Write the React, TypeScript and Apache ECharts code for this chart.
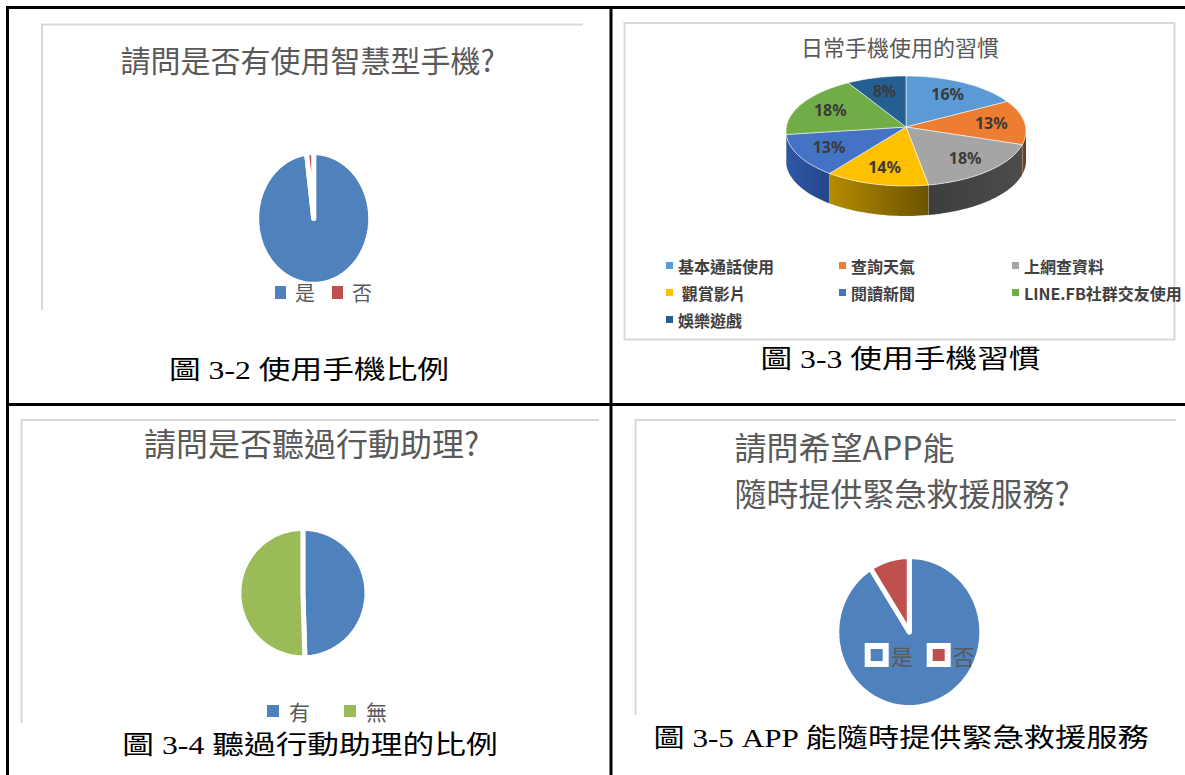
import React, { useEffect, useRef } from "react";
import * as echarts from "echarts";

// ---- Data ----
// 圖 3-2
const phoneCategories = ["是", "否"];
const phoneValues = [98, 2];
// 圖 3-3
const habitCategories = ["基本通話使用", "查詢天氣", "上網查資料", " 觀賞影片", "閱讀新聞", "LINE.FB社群交友使用", "娛樂遊戲"];
const habitValues = [16, 13, 18, 14, 13, 18, 8];
// 圖 3-4
const assistantCategories = ["有", "無"];
const assistantValues = [49.5, 50.5];
// 圖 3-5
const rescueCategories = ["是", "否"];
const rescueValues = [91, 9];

const chartTitles = [
  "請問是否有使用智慧型手機?",
  "日常手機使用的習慣",
  "請問是否聽過行動助理?",
  "請問希望APP能\n隨時提供緊急救援服務?",
];
const figureCaptions = [
  "圖 3-2 使用手機比例",
  "圖 3-3 使用手機習慣",
  "圖 3-4 聽過行動助理的比例",
  "圖 3-5 APP 能隨時提供緊急救援服務",
];

// ---- Styles ----
const BLUE = "#4F81BD";
const RED = "#C0504D";
const GREEN = "#9BBB59";
const habitColors = ["#5B9BD5", "#ED7D31", "#A5A5A5", "#FFC000", "#4472C4", "#70AD47", "#255E91"];
const habitSideColors = [
  ["#3f78ad", "#2f5d88"],
  ["#8a4a20", "#5e3515"],
  ["#3d3d3d", "#4c4c4c"],
  ["#b58c00", "#6b5300"],
  ["#2f57a6", "#24478a"],
  ["#4f8530", "#3b6524"],
  ["#1a4670", "#143657"],
];
const CJK = '"Noto Sans CJK TC", "Noto Sans", sans-serif';
const SERIF = '"Liberation Serif", "Noto Sans CJK TC", serif';
const TITLE_GRAY = "#595959";

const sum = (a: number[]) => a.reduce((s, v) => s + v, 0);

function arcPoints(cx: number, cy: number, rx: number, ry: number, a0: number, a1: number, dy = 0) {
  const pts: number[][] = [];
  const n = Math.max(2, Math.ceil(Math.abs(a1 - a0) / 2));
  for (let k = 0; k <= n; k++) {
    const a = ((a0 + ((a1 - a0) * k) / n) * Math.PI) / 180;
    pts.push([cx + rx * Math.sin(a), cy - ry * Math.cos(a) + dy]);
  }
  return pts;
}

type Geo = { cx: number; cy: number; rx: number; ry: number; border: number };

function flatPie(cats: string[], vals: number[], colors: string[], geo: Geo) {
  const total = sum(vals);
  return cats.map((name, i) => {
    const before = sum(vals.slice(0, i));
    return {
      type: "custom",
      name,
      coordinateSystem: "none",
      data: [[vals[i]]],
      itemStyle: { color: colors[i] },
      renderItem: (_p: any, api: any) => {
        const v = api.value(0);
        const a0 = (before / total) * 360;
        const a1 = ((before + v) / total) * 360;
        const pts = [[geo.cx, geo.cy], ...arcPoints(geo.cx, geo.cy, geo.rx, geo.ry, a0, a1)];
        return {
          type: "polygon",
          z2: i,
          shape: { points: pts },
          style: { fill: colors[i], stroke: "#ffffff", lineWidth: geo.border, lineJoin: "round" },
        };
      },
    };
  });
}

const pie3d = { cx: 906, cy: 131, rx: 120, ry: 55, depth: 30, apexDy: -4, labelF: 0.72 };

function pie3dSeries() {
  const total = sum(habitValues);
  const { cx, cy, rx, ry, depth, apexDy, labelF } = pie3d;
  return habitCategories.map((name, i) => {
    const before = sum(habitValues.slice(0, i));
    return {
      type: "custom",
      name,
      coordinateSystem: "none",
      data: [[habitValues[i]]],
      itemStyle: { color: habitColors[i] },
      renderItem: (_p: any, api: any) => {
        const v = api.value(0);
        const a0 = (before / total) * 360;
        const a1 = ((before + v) / total) * 360;
        const children: any[] = [];
        const b0 = Math.max(a0, 90);
        const b1 = Math.min(a1, 270);
        if (b1 > b0) {
          const top = arcPoints(cx, cy, rx, ry, b0, b1);
          const bottom = arcPoints(cx, cy, rx, ry, b0, b1, depth).reverse();
          children.push({
            type: "polygon",
            z2: i,
            shape: { points: [...top, ...bottom] },
            style: {
              fill: new echarts.graphic.LinearGradient(0, 0, 1, 0, [
                { offset: 0, color: habitSideColors[i][0] },
                { offset: 1, color: habitSideColors[i][1] },
              ]),
              stroke: "rgba(255,255,255,0.2)",
              lineWidth: 0.5,
            },
          });
        }
        children.push({
          type: "polygon",
          z2: 10 + i,
          shape: { points: [[cx, cy + apexDy], ...arcPoints(cx, cy, rx, ry, a0, a1)] },
          style: { fill: habitColors[i], stroke: "rgba(255,255,255,0.55)", lineWidth: 1 },
        });
        const mid = (((a0 + a1) / 2) * Math.PI) / 180;
        children.push({
          type: "text",
          z2: 100,
          x: cx + rx * labelF * Math.sin(mid),
          y: cy - 2 - ry * labelF * Math.cos(mid),
          style: {
            text: `${v}%`,
            fill: "#3a3a3a",
            fontSize: 16,
            fontWeight: "bold",
            fontFamily: '"Noto Sans", sans-serif',
            align: "center",
            verticalAlign: "middle",
          },
        });
        return { type: "group", children };
      },
    };
  });
}

function textEl(text: string, x: number, y: number, fontSize: number, fill: string, family: string, align = "center", extra: any = {}, scaleX = 1) {
  return {
    type: "text",
    x,
    y,
    scaleX,
    style: { text, fill, fontSize, fontFamily: family, align, verticalAlign: "middle", ...extra },
  };
}

function buildOption() {
  const black = { stroke: "#000000", lineWidth: 3 };
  const gray = { stroke: "#d9d9d9", lineWidth: 2, fill: "none" };
  const graphics: any[] = [
    // table borders
    { type: "line", shape: { x1: 6, y1: 7.5, x2: 1185, y2: 7.5 }, style: black },
    { type: "line", shape: { x1: 7.5, y1: 6, x2: 7.5, y2: 775 }, style: black },
    { type: "line", shape: { x1: 611, y1: 6, x2: 611, y2: 775 }, style: black },
    { type: "line", shape: { x1: 6, y1: 404.5, x2: 1185, y2: 404.5 }, style: black },
    // chart frames
    { type: "polyline", shape: { points: [[42, 310], [42, 24.5], [583, 24.5]] }, style: gray },
    { type: "rect", shape: { x: 624.5, y: 23, width: 550, height: 316.5 }, style: gray },
    { type: "polyline", shape: { points: [[21.5, 723], [21.5, 420], [599, 420]] }, style: gray },
    { type: "polyline", shape: { points: [[635.5, 715], [635.5, 420], [1176, 420]] }, style: gray },
    // titles
    textEl(chartTitles[0], 307.5, 58.5, 30, TITLE_GRAY, CJK),
    textEl(chartTitles[1], 900, 46, 22, TITLE_GRAY, CJK),
    textEl(chartTitles[2], 311.5, 442, 32, TITLE_GRAY, CJK),
    textEl(chartTitles[3], 734.5, 469, 32, TITLE_GRAY, CJK, "left", { lineHeight: 46 }),
    // captions (letter-spaced in the original; approximated by horizontal stretch)
    textEl(figureCaptions[0], 309, 370, 26, "#000000", SERIF, "center", {}, 1.22),
    textEl(figureCaptions[1], 900.5, 359, 26, "#000000", SERIF, "center", {}, 1.22),
    textEl(figureCaptions[2], 310, 745.5, 26, "#000000", SERIF, "center", {}, 1.22),
    textEl(figureCaptions[3], 901, 737.5, 26, "#000000", SERIF, "center", {}, 1.2),
  ];

  const series = [
    ...flatPie(phoneCategories, phoneValues, [BLUE, RED], { cx: 313.7, cy: 218.5, rx: 57, ry: 65.8, border: 5 }),
    ...pie3dSeries(),
    ...flatPie(assistantCategories, assistantValues, [BLUE, GREEN], { cx: 302.9, cy: 593, rx: 64, ry: 64.7, border: 5 }),
    ...flatPie(rescueCategories, rescueValues, [BLUE, RED], { cx: 909.3, cy: 632, rx: 72.5, ry: 75.5, border: 5 }),
  ];

  const legend = [
    {
      data: phoneCategories,
      left: 275,
      top: 282.5,
      padding: 0,
      icon: "rect",
      itemWidth: 11,
      itemHeight: 13,
      itemGap: 17,
      itemStyle: { borderWidth: 0 },
      textStyle: { fontSize: 20, color: TITLE_GRAY, fontFamily: CJK, padding: [0, 0, 0, 4] },
      selectedMode: false,
    },
    {
      data: habitCategories,
      left: 666,
      top: 256,
      width: 540,
      padding: 0,
      icon: "rect",
      itemWidth: 7,
      itemHeight: 7,
      itemGap: 8,
      itemStyle: { borderWidth: 0 },
      textStyle: { fontSize: 16, fontWeight: "bold", color: "#404040", fontFamily: CJK, width: 153, lineHeight: 19 },
      selectedMode: false,
    },
    {
      data: assistantCategories,
      left: 267,
      top: 700.5,
      padding: 0,
      icon: "rect",
      itemWidth: 12,
      itemHeight: 12,
      itemGap: 34,
      itemStyle: { borderWidth: 0 },
      textStyle: { fontSize: 21, color: TITLE_GRAY, fontFamily: CJK, padding: [0, 0, 0, 5] },
      selectedMode: false,
    },
    {
      data: rescueCategories,
      left: 864.7,
      top: 643,
      padding: 0,
      icon: "rect",
      itemWidth: 18,
      itemHeight: 18,
      itemGap: 14,
      itemStyle: { borderColor: "#ffffff", borderWidth: 6 },
      textStyle: { fontSize: 22, color: TITLE_GRAY, fontFamily: CJK },
      selectedMode: false,
    },
  ];

  return {
    animation: false,
    backgroundColor: "#ffffff",
    legend,
    graphic: { elements: graphics },
    series,
  };
}

export default function App() {
  const ref = useRef<HTMLDivElement>(null);
  useEffect(() => {
    if (!ref.current) return;
    const chart = echarts.init(ref.current, null, { renderer: "svg" });
    chart.setOption(buildOption() as any);
    return () => chart.dispose();
  }, []);
  return (
    <div
      ref={ref}
      style={{ position: "absolute", left: 0, top: 0, width: 1185, height: 775, background: "#fff" }}
    />
  );
}
